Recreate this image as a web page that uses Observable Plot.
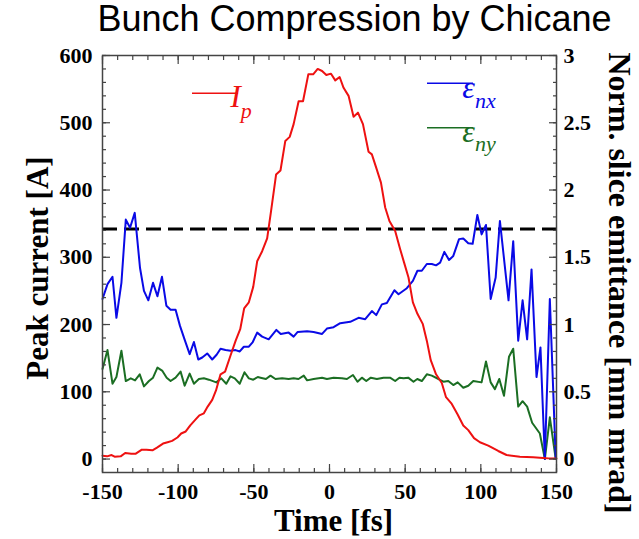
<!DOCTYPE html>
<html><head><meta charset="utf-8">
<script src="https://cdn.jsdelivr.net/npm/d3@7"></script>
<script src="https://cdn.jsdelivr.net/npm/@observablehq/plot@0.6"></script>
<style>body{margin:0;background:#fff}#chart svg{display:block;overflow:visible}</style>
</head><body><div id="chart"></div>
<script>
// Peak current I_p [A] vs time [fs]
const ipSeries = [[-150,5],[-147,4],[-144,6],[-142,3.5],[-138,4],[-135,9],[-131,8],[-128,8],[-124,14],[-121,14],[-117,13],[-114,17],[-110,23],[-107,25],[-104,27],[-100.5,32],[-98,38],[-95,41],[-92,50],[-88,60],[-86,65],[-83,68],[-80.5,78],[-77.5,88],[-75,102],[-72,126],[-69,130],[-65.4,154],[-62,176],[-59,193],[-56.4,224],[-53.3,233],[-50.4,256],[-47.8,294],[-44.5,309],[-41.2,328],[-38.6,369],[-35.3,423],[-32.4,429],[-29.2,473],[-26.3,479],[-23.7,498],[-20.4,532],[-17.5,532],[-14,572],[-10.8,572],[-7.8,580],[-4.9,577],[-2.1,571],[1,573],[3.8,563],[6.7,568],[9.3,552],[12.6,540],[15.9,509],[18.8,515],[22.1,498],[25.8,457],[28,453],[30.9,433],[34,411],[36.8,374],[39.6,354],[43.4,339],[46.7,312],[49.3,292],[52.2,270],[55.1,233],[58.1,216],[61.6,201],[64.3,176],[66.9,147],[70.4,126],[74.2,113],[77,92],[80.8,82],[84.5,67],[88.4,50],[91.7,43],[95.5,31],[99.4,25],[104.9,20],[111.5,12],[117,6],[125.8,3.5],[134.6,2.5],[141.2,1.5],[145,1],[150,1]];
// Normalized slice emittance eps_nx [mm mrad]
const exSeries = [[-150,1.19],[-146.7,1.30],[-143.4,1.355],[-140.8,1.05],[-137.5,1.31],[-134.6,1.78],[-131.8,1.72],[-128.7,1.83],[-125.2,1.42],[-122.6,1.25],[-119.7,1.18],[-116.6,1.31],[-113.7,1.21],[-110.7,1.355],[-107.8,1.14],[-105,1.11],[-101.7,1.11],[-98.8,0.99],[-95.5,0.88],[-92.4,0.78],[-89.6,0.87],[-86.7,0.74],[-84.1,0.755],[-80.8,0.785],[-77.5,0.74],[-74.6,0.775],[-72,0.82],[-68.7,0.81],[-65.4,0.805],[-62.1,0.81],[-59.3,0.80],[-56.6,0.835],[-53.3,0.835],[-50.7,0.87],[-47.8,0.94],[-44.5,0.91],[-40.2,0.89],[-35.1,0.96],[-32.2,0.93],[-27,0.94],[-23.7,0.91],[-21,0.945],[-14.8,0.95],[-10.5,0.945],[-4.9,0.93],[-1.7,0.97],[2.7,0.98],[7.1,1.01],[13.7,1.02],[19.2,1.05],[23.6,1.04],[28,1.10],[30.9,1.07],[34.6,1.15],[37.9,1.16],[42.9,1.255],[45.6,1.225],[51.1,1.27],[55.1,1.325],[58.1,1.40],[61,1.40],[64.3,1.45],[67.6,1.45],[70.4,1.44],[73.1,1.46],[75.9,1.54],[79,1.48],[81.8,1.51],[85.6,1.635],[88.4,1.64],[91.7,1.605],[94.6,1.60],[97.7,1.815],[100.5,1.67],[103.4,1.74],[106.5,1.19],[109.8,1.35],[112.6,1.77],[115.5,1.47],[118.3,1.18],[121.4,1.62],[124.7,0.88],[127.6,1.18],[130.6,0.89],[133.5,1.41],[136.8,0.61],[139.4,0.83],[142.3,0.0],[145.6,1.19],[149.5,0.0]];
// Normalized slice emittance eps_ny [mm mrad]
const eySeries = [[-150,0.67],[-146.7,0.81],[-143.4,0.56],[-140.8,0.61],[-137.5,0.805],[-134.6,0.58],[-131.3,0.60],[-128.5,0.585],[-125.4,0.63],[-122.6,0.54],[-119.3,0.58],[-116.6,0.605],[-113.7,0.68],[-110.4,0.655],[-107.6,0.605],[-105,0.58],[-101.7,0.605],[-98.4,0.65],[-95.7,0.545],[-92.4,0.635],[-89.6,0.56],[-86.3,0.595],[-83,0.60],[-79.7,0.59],[-74.8,0.57],[-71.5,0.60],[-68.2,0.56],[-65.4,0.615],[-62.6,0.60],[-59.3,0.56],[-56.2,0.645],[-53.3,0.60],[-50.4,0.59],[-47.4,0.61],[-45.6,0.605],[-42,0.595],[-39,0.62],[-35.7,0.595],[-31.3,0.60],[-27,0.595],[-23.7,0.60],[-20.5,0.595],[-17,0.62],[-14.8,0.585],[-10.5,0.595],[-4.9,0.605],[-1.7,0.595],[2.7,0.605],[8.2,0.60],[11.5,0.595],[15.5,0.625],[18.5,0.575],[21.4,0.605],[24.3,0.58],[27.3,0.605],[31.3,0.595],[35.7,0.605],[40,0.605],[43.4,0.58],[46.2,0.605],[49,0.60],[52,0.605],[55.5,0.575],[58,0.595],[61,0.58],[64.3,0.63],[67.6,0.62],[72,0.595],[75.3,0.575],[78.5,0.58],[81.8,0.55],[84.7,0.57],[88.4,0.53],[91.7,0.545],[95,0.58],[100.5,0.57],[103.4,0.725],[106.5,0.57],[109.3,0.52],[112.2,0.595],[115.3,0.47],[118.6,0.76],[121.4,0.82],[124.7,0.39],[127.6,0.43],[130.6,0.39],[133.9,0.27],[139,0.19],[142.3,0.0],[145.6,0.31],[149.5,0.0]];

const thresholdCurrent = [342];              // dashed reference line [A]
const emitToCurrent = 200;                   // right axis: 3 mm mrad <-> 600 A
const xMajorTicks = [-150, -100, -50, 0, 50, 100, 150];
const xMinorTicks = d3.range(-150, 151, 10);
const yMajorTicks = [0, 100, 200, 300, 400, 500, 600];
const yMinorTicks = d3.range(0, 601, 20);
const rightTickLabels = ["0", "0.5", "1", "1.5", "2", "2.5", "3"];
const titleText = "Bunch Compression by Chicane";
const xLabel = "Time [fs]";
const yLabelLeft = "Peak current [A]";
const yLabelRight = "Norm. slice emittance [mm mrad]";

const RED = "#ee1111", BLUE = "#0a0ae6", GREEN = "#1b6e23", AXIS = "#444";

const toRows = s => s.map(([t, v]) => ({t, v}));
const ip = toRows(ipSeries), ex = toRows(exSeries), ey = toRows(eySeries);

const tickAxis = (dim, anchor, ticks, size) =>
  (dim === "x" ? Plot.axisX : Plot.axisY)(ticks, {anchor, tickSize: -size, tickFormat: () => "", label: null, stroke: AXIS, strokeWidth: 1.2});

const plot = Plot.plot({
  width: 639, height: 539,
  marginLeft: 102, marginRight: 83, marginTop: 55, marginBottom: 67,
  x: {domain: [-150, 150]},
  y: {domain: [-20, 600]},
  style: {fontFamily: "'Liberation Serif', 'Times New Roman', serif", fontWeight: "bold", fontSize: "22px", background: "#fff", color: "#000", overflow: "visible"},
  marks: [
    Plot.ruleY(thresholdCurrent, {stroke: "#000", strokeWidth: 3, strokeDasharray: "15,7"}),
    Plot.line(ey, {x: "t", y: d => d.v * emitToCurrent, stroke: GREEN, strokeWidth: 2}),
    Plot.line(ex, {x: "t", y: d => d.v * emitToCurrent, stroke: BLUE, strokeWidth: 2}),
    Plot.line(ip, {x: "t", y: "v", stroke: RED, strokeWidth: 2}),
    tickAxis("x", "bottom", xMinorTicks, 4),
    tickAxis("x", "bottom", xMajorTicks, 8),
    tickAxis("x", "top", xMinorTicks, 4),
    tickAxis("x", "top", xMajorTicks, 8),
    tickAxis("y", "left", yMinorTicks, 4),
    tickAxis("y", "left", yMajorTicks, 8),
    tickAxis("y", "right", yMinorTicks, 4),
    tickAxis("y", "right", yMajorTicks, 8),
    Plot.axisX(xMajorTicks, {anchor: "bottom", tickSize: 0, tickPadding: 11, label: null, fontSize: 22, tickFormat: d => String(d)}),
    Plot.axisY(yMajorTicks, {anchor: "left", tickSize: 0, tickPadding: 10, label: null, fontSize: 22, tickFormat: d => String(d)}),
    Plot.axisY(yMajorTicks, {anchor: "right", tickSize: 0, tickPadding: 7, label: null, fontSize: 22,
      tickFormat: d => rightTickLabels[yMajorTicks.indexOf(d)]}),
    Plot.frame({stroke: AXIS, strokeWidth: 1.5}),
    Plot.text([titleText], {frameAnchor: "top", textAnchor: "middle", dx: 25, dy: -25, lineAnchor: "bottom",
      fontFamily: "'Liberation Sans', Arial, sans-serif", fontWeight: "normal", fontSize: 36, fill: "#000"}),
    Plot.text([xLabel], {frameAnchor: "bottom", textAnchor: "middle", dx: 4, dy: 58, lineAnchor: "bottom", fontSize: 31, fill: "#000"}),
    Plot.text([yLabelLeft], {frameAnchor: "left", textAnchor: "middle", rotate: -90, dx: -55, dy: 4, lineAnchor: "bottom", fontSize: 31, fill: "#000"}),
    Plot.text([yLabelRight], {frameAnchor: "right", textAnchor: "middle", rotate: 90, dx: 52, dy: 19, lineAnchor: "bottom", fontSize: 32, fill: "#000"})
  ]
});

// Legend (line sample + italic symbol with subscript)
const svg = d3.select(plot);
const legendItems = [
  {color: RED, x1: 192, x2: 238, y: 93.3, sym: "I", sub: "p", sx: 241, sb: 106.7, shift: 11},
  {color: BLUE, x1: 427, x2: 473, y: 83.3, sym: "\u03B5", sub: "nx", sx: 479, sb: 98, shift: 9.5},
  {color: GREEN, x1: 427, x2: 473, y: 127.7, sym: "\u03B5", sub: "ny", sx: 479, sb: 141.7, shift: 9}
];
const lg = svg.append("g").attr("font-family", "'Liberation Serif', 'Times New Roman', serif").attr("font-style", "italic").attr("font-weight", "normal");
for (const it of legendItems) {
  lg.append("line").attr("x1", it.x1).attr("x2", it.x2).attr("y1", it.y).attr("y2", it.y).attr("stroke", it.color).attr("stroke-width", 1.5);
  const t = lg.append("text").attr("x", it.sx).attr("y", it.sb).attr("fill", it.color).attr("font-size", 32);
  t.append("tspan").text(it.sym);
  t.append("tspan").attr("dy", it.shift).attr("font-size", 22).text(it.sub);
}
document.getElementById("chart").appendChild(plot);
</script>
</body></html>
